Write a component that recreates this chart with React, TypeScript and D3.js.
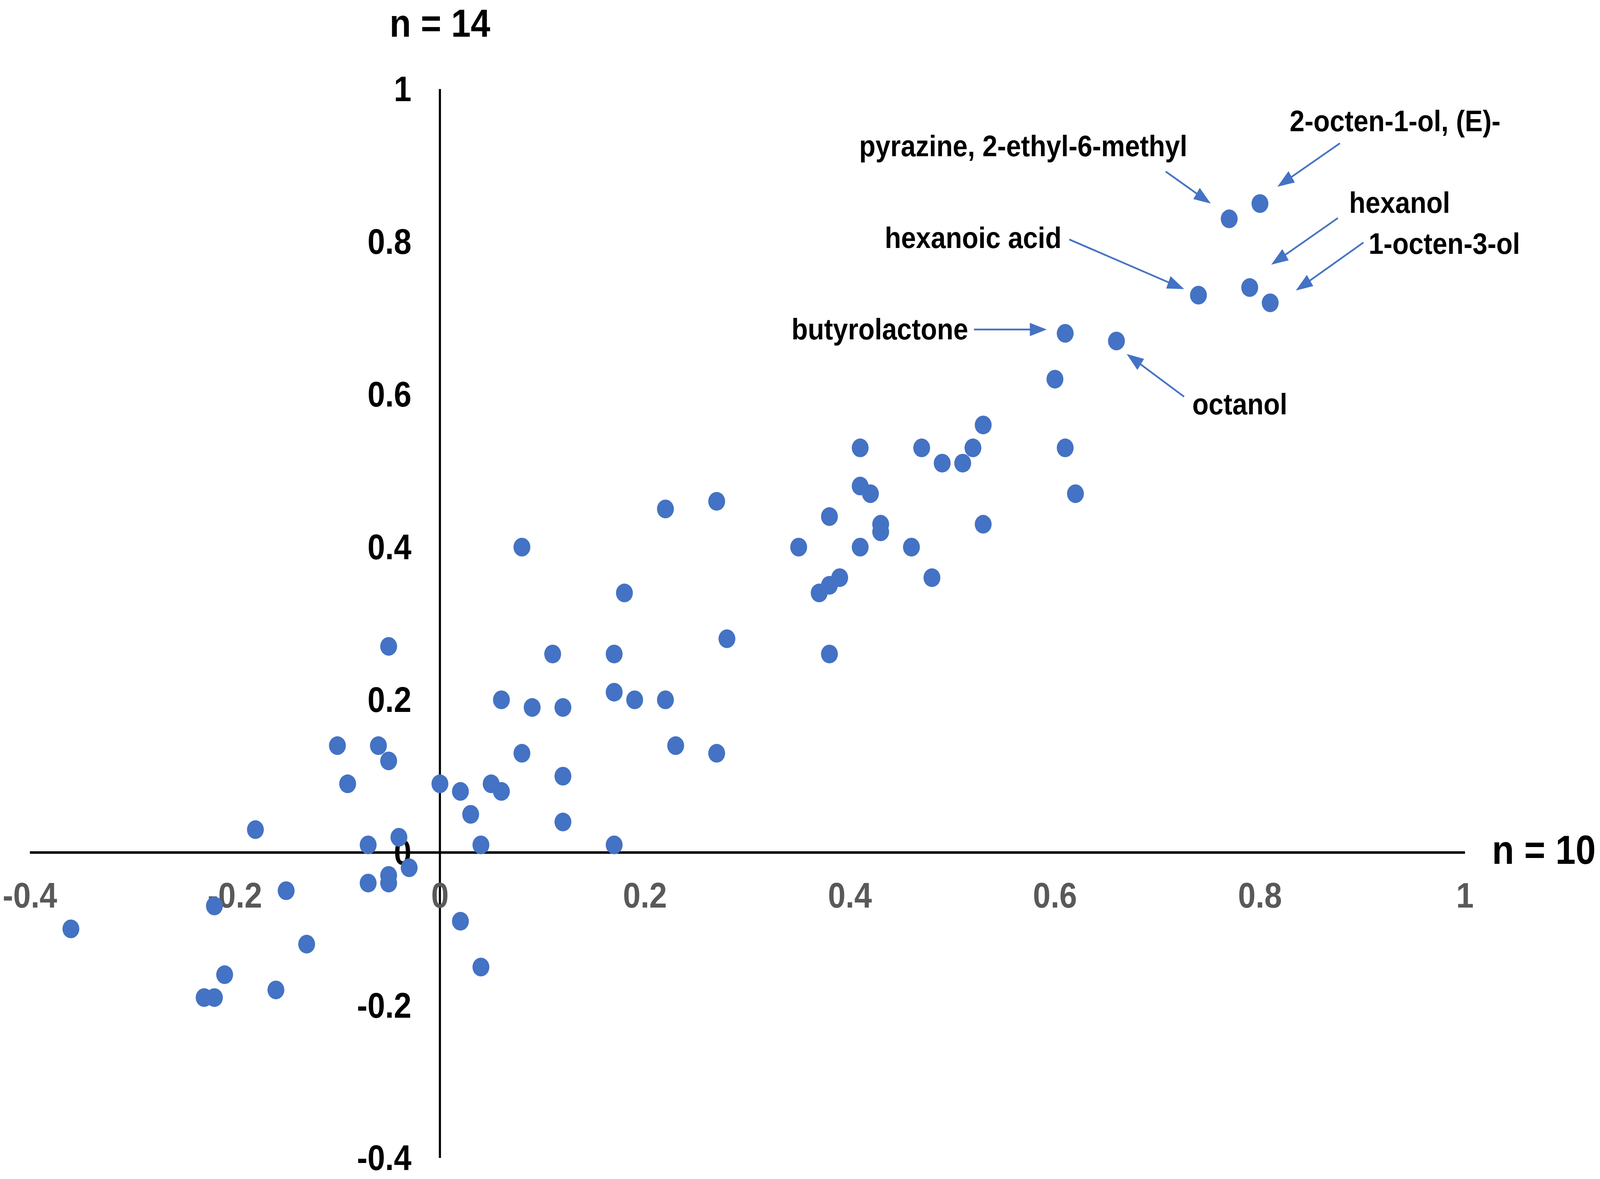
import * as d3 from "d3";

// loadings of the volatile compounds (x: n = 10 panel, y: n = 14 panel)
const compoundX = [
  -0.36, -0.22, -0.23, -0.22, -0.21, -0.16, -0.18, -0.15, -0.13,
  -0.1, -0.09, -0.07, -0.07, -0.06, -0.05, -0.05, -0.04, -0.05, -0.05, -0.03,
  0, 0.02, 0.03, 0.04, 0.02, 0.04, 0.05, 0.06, 0.06, 0.08, 0.08, 0.09,
  0.11, 0.12, 0.12, 0.12, 0.17, 0.17, 0.17, 0.18, 0.19, 0.22, 0.22, 0.23,
  0.27, 0.27, 0.28, 0.35, 0.37, 0.38, 0.39, 0.38, 0.38, 0.41, 0.41, 0.42,
  0.41, 0.43, 0.43, 0.46, 0.47, 0.48, 0.49, 0.51, 0.52, 0.53, 0.53, 0.6,
  0.61, 0.61, 0.62, 0.66, 0.74, 0.77, 0.8, 0.79, 0.81,
];
const compoundY = [
  -0.1, -0.07, -0.19, -0.19, -0.16, -0.18, 0.03, -0.05, -0.12,
  0.14, 0.09, 0.01, -0.04, 0.14, 0.12, 0.27, 0.02, -0.03, -0.04, -0.02,
  0.09, 0.08, 0.05, 0.01, -0.09, -0.15, 0.09, 0.08, 0.2, 0.4, 0.13, 0.19,
  0.26, 0.19, 0.1, 0.04, 0.26, 0.21, 0.01, 0.34, 0.2, 0.45, 0.2, 0.14,
  0.46, 0.13, 0.28, 0.4, 0.34, 0.35, 0.36, 0.44, 0.26, 0.53, 0.48, 0.47,
  0.4, 0.43, 0.42, 0.4, 0.53, 0.36, 0.51, 0.51, 0.53, 0.56, 0.43, 0.62,
  0.68, 0.53, 0.47, 0.67, 0.73, 0.83, 0.85, 0.74, 0.72,
];

const xTicks = [-0.4, -0.2, 0, 0.2, 0.4, 0.6, 0.8, 1];
const yTicks = [-0.4, -0.2, 0, 0.2, 0.4, 0.6, 0.8, 1];

// labelled compounds, anchors in data units
const annotations = [
  { label: "2-octen-1-ol, (E)-", tx: 0.829, ty: 0.945, from: [0.878, 0.929], to: [0.817, 0.872] },
  { label: "pyrazine, 2-ethyl-6-methyl", tx: 0.409, ty: 0.912, from: [0.708, 0.892], to: [0.752, 0.85] },
  { label: "hexanol", tx: 0.887, ty: 0.838, from: [0.876, 0.831], to: [0.811, 0.77] },
  { label: "1-octen-3-ol", tx: 0.906, ty: 0.784, from: [0.901, 0.799], to: [0.835, 0.736] },
  { label: "hexanoic acid", tx: 0.434, ty: 0.792, from: [0.614, 0.803], to: [0.726, 0.738] },
  { label: "butyrolactone", tx: 0.343, ty: 0.672, from: [0.521, 0.685], to: [0.592, 0.685] },
  { label: "octanol", tx: 0.734, ty: 0.574, from: [0.726, 0.597], to: [0.67, 0.653] },
];

const W = 4550;
const H = 3019;
const BLUE = "#4472C4";
const FONT = "'Liberation Sans', Arial, Helvetica, sans-serif";

// plain hyphen for negatives, like the original
const fmt = (v: number) => String(+v.toFixed(1));

function Arrow({ x1, y1, x2, y2 }: { x1: number; y1: number; x2: number; y2: number }) {
  const len = Math.hypot(x2 - x1, y2 - y1);
  const ux = (x2 - x1) / len;
  const uy = (y2 - y1) / len;
  const headL = 48;
  const headW = 34;
  const bx = x2 - ux * headL;
  const by = y2 - uy * headL;
  const px = -uy * (headW / 2);
  const py = ux * (headW / 2);
  return (
    <g>
      <line x1={x1} y1={y1} x2={bx + ux * 4} y2={by + uy * 4} stroke={BLUE} strokeWidth={4.5} />
      <polygon
        points={`${x2},${y2} ${bx + px},${by + py} ${bx - px},${by - py}`}
        fill={BLUE}
      />
    </g>
  );
}

export default function App() {
  const x = d3.scaleLinear().domain([-0.4, 1]).range([85, 4166]);
  const y = d3.scaleLinear().domain([-0.4, 1]).range([2965, 228]);
  const points = d3.zip(compoundX, compoundY);

  return (
    <div style={{ position: "fixed", left: 0, top: 0, width: "100vw", height: "100vh", background: "#fff" }}>
      <svg
        width="100%"
        height="100%"
        viewBox={`0 0 ${W} ${H}`}
        preserveAspectRatio="none"
        style={{ display: "block" }}
        fontFamily={FONT}
        fontWeight="bold"
      >
        <rect width={W} height={H} fill="#fff" />

        {/* axes crossing at the origin */}
        <line x1={x(-0.4)} x2={x(1)} y1={y(0)} y2={y(0)} stroke="#000" strokeWidth={6.5} />
        <line x1={x(0)} x2={x(0)} y1={y(1)} y2={y(-0.4)} stroke="#000" strokeWidth={6} />

        {xTicks.map((t) => (
          <text key={"x" + t} x={x(t)} y={y(0) + 141} textAnchor="middle" fontSize={90} fill="#595959">
            {fmt(t)}
          </text>
        ))}
        {yTicks.map((t) => (
          <text key={"y" + t} x={x(0) - 81} y={y(t)} dy="0.35em" textAnchor="end" fontSize={90} fill="#000">
            {fmt(t)}
          </text>
        ))}

        <text x={x(0)} y={94} textAnchor="middle" fontSize={100} fill="#000">
          n = 14
        </text>
        <text x={4243} y={2212} textAnchor="start" fontSize={103} fill="#000">
          n = 10
        </text>

        {points.map(([px, py], i) => (
          <circle key={i} cx={x(px)} cy={y(py)} r={24} fill={BLUE} />
        ))}

        {annotations.map((a) => (
          <g key={a.label}>
            <text x={x(a.tx)} y={y(a.ty)} fontSize={76} fill="#000">
              {a.label}
            </text>
            <Arrow x1={x(a.from[0])} y1={y(a.from[1])} x2={x(a.to[0])} y2={y(a.to[1])} />
          </g>
        ))}
      </svg>
    </div>
  );
}
